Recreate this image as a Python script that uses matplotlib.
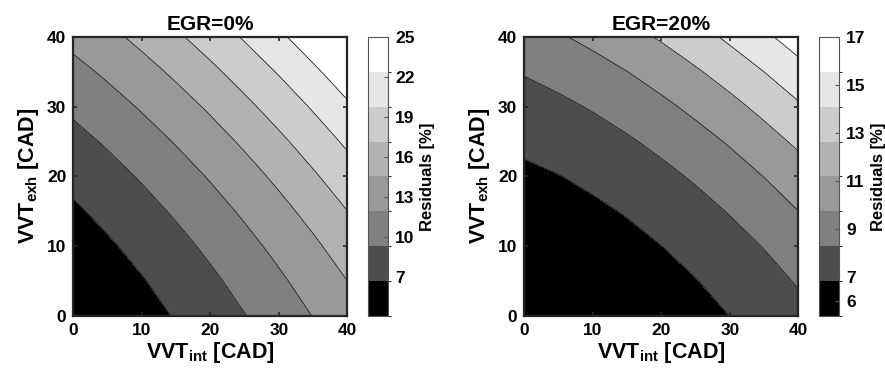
import numpy as np
import matplotlib
matplotlib.use("Agg")
import matplotlib.pyplot as plt
from matplotlib.colors import ListedColormap, BoundaryNorm
from matplotlib.cm import ScalarMappable

plt.rcParams['font.family'] = 'Liberation Sans'
plt.rcParams['font.weight'] = 'bold'
plt.rcParams['mathtext.fontset'] = 'custom'
plt.rcParams['mathtext.rm'] = 'Liberation Sans'
plt.rcParams['mathtext.bf'] = 'Liberation Sans:bold'

vvt = [0, 5, 10, 15, 20, 25, 30, 35, 40]

# residuals [%], rows: VVT_exh, cols: VVT_int
res_egr0 = [
    [4.06, 4.72, 5.49, 6.39, 7.41, 8.55, 9.80, 11.18, 12.68],
    [4.55, 5.27, 6.12, 7.09, 8.18, 9.39, 10.72, 12.17, 13.74],
    [5.17, 5.97, 6.89, 7.93, 9.09, 10.37, 11.77, 13.29, 14.93],
    [5.94, 6.81, 7.80, 8.91, 10.14, 11.49, 12.96, 14.55, 16.26],
    [6.84, 7.78, 8.84, 10.02, 11.32, 12.74, 14.29, 15.95, 17.73],
    [7.88, 8.89, 10.02, 11.28, 12.65, 14.14, 15.75, 17.49, 19.34],
    [9.06, 10.14, 11.35, 12.67, 14.11, 15.68, 17.36, 19.16, 21.09],
    [10.38, 11.53, 12.81, 14.20, 15.71, 17.35, 19.10, 20.98, 22.97],
    [11.84, 13.06, 14.40, 15.87, 17.45, 19.16, 20.99, 22.93, 25.00],
]
lines_egr0 = [6.25, 8.62, 11.12, 13.74, 16.28, 18.91, 21.47]
fill_egr0 = ['#000000', '#4d4d4d', '#808080', '#999999', '#b2b2b2', '#cccccc', '#e6e6e6', '#ffffff']
clim_egr0 = [4.06, 25]
ticks_egr0 = [7, 10, 13, 16, 19, 22, 25]

res_egr20 = [
    [5.37, 5.38, 5.49, 5.70, 6.01, 6.42, 6.93, 7.54, 8.26],
    [5.49, 5.57, 5.74, 6.02, 6.39, 6.87, 7.45, 8.12, 8.91],
    [5.74, 5.88, 6.12, 6.46, 6.91, 7.45, 8.09, 8.83, 9.68],
    [6.11, 6.32, 6.63, 7.03, 7.54, 8.15, 8.86, 9.67, 10.59],
    [6.61, 6.88, 7.25, 7.72, 8.30, 8.97, 9.75, 10.63, 11.61],
    [7.24, 7.57, 8.01, 8.55, 9.19, 9.93, 10.77, 11.72, 12.76],
    [7.99, 8.39, 8.90, 9.50, 10.21, 11.02, 11.92, 12.93, 14.05],
    [8.87, 9.34, 9.91, 10.58, 11.35, 12.23, 13.20, 14.28, 15.46],
    [9.88, 10.42, 11.05, 11.79, 12.63, 13.57, 14.61, 15.75, 17.00],
]
lines_egr20 = [6.92, 8.76, 10.60, 12.44, 14.28, 16.12]
fill_egr20 = ['#000000', '#4d4d4d', '#808080', '#999999', '#cccccc', '#e6e6e6', '#ffffff']
clim_egr20 = [5.37, 17]
ticks_egr20 = [6, 7, 9, 11, 13, 15, 17]

bar_colors = ['#000000', '#4d4d4d', '#808080', '#999999', '#b2b2b2', '#cccccc', '#e6e6e6', '#ffffff']

fig = plt.figure(figsize=(8.85, 3.78), dpi=100)
W, H = 885, 378
panels = [
    ("EGR=0%", res_egr0, lines_egr0, fill_egr0, clim_egr0, ticks_egr0, 73.3, 368.3),
    ("EGR=20%", res_egr20, lines_egr20, fill_egr20, clim_egr20, ticks_egr20, 524.3, 819.3),
]
frame = '#262626'
for title, z, lines, fills, clim, cticks, ax_x, cb_x in panels:
    z = np.array(z)
    ax = fig.add_axes([ax_x / W, 1 - 315.7 / H, 274 / W, 278.7 / H])
    levels = [z.min()] + lines + [z.max()]
    ax.contourf(vvt, vvt, z, levels=levels, colors=fills)
    ax.contour(vvt, vvt, z, levels=lines, colors='#1a1a1a', linewidths=0.6)
    ax.set_xlim(0, 40)
    ax.set_ylim(0, 40)
    ax.set_xticks([0, 10, 20, 30, 40])
    ax.set_yticks([0, 10, 20, 30, 40])
    ax.tick_params(direction='in', length=3, width=1.2, color=frame, labelsize=12.5,
                   top=True, right=True, pad=5)
    for s in ax.spines.values():
        s.set_linewidth(1.6)
        s.set_color(frame)
    ax.set_title(title, fontsize=15, fontweight='bold', pad=5)
    ax.set_xlabel(r'$\mathbf{VVT_{int}}$ [CAD]', fontsize=15.5, fontweight='bold', labelpad=2)
    ax.set_ylabel(r'$\mathbf{VVT_{exh}}$ [CAD]', fontsize=15.5, fontweight='bold', labelpad=4)

    cax = fig.add_axes([cb_x / W, 1 - 315.7 / H, 20 / W, 278.7 / H])
    bounds = np.linspace(clim[0], clim[1], len(bar_colors) + 1)
    sm = ScalarMappable(norm=BoundaryNorm(bounds, len(bar_colors)), cmap=ListedColormap(bar_colors))
    cb = fig.colorbar(sm, cax=cax, spacing='proportional')
    cb.set_ticks(cticks)
    cb.set_ticklabels([str(t) for t in cticks])
    cb.ax.set_ylim(clim[0], clim[1])
    cb.ax.tick_params(direction='in', length=3, width=0.8, color='#555555', labelsize=12.5, pad=5)
    cb.outline.set_linewidth(0.8)
    cb.outline.set_edgecolor('#555555')
    cb.set_label('Residuals [%]', fontsize=12, fontweight='bold', labelpad=4)

fig.savefig('out.png', dpi=100)
